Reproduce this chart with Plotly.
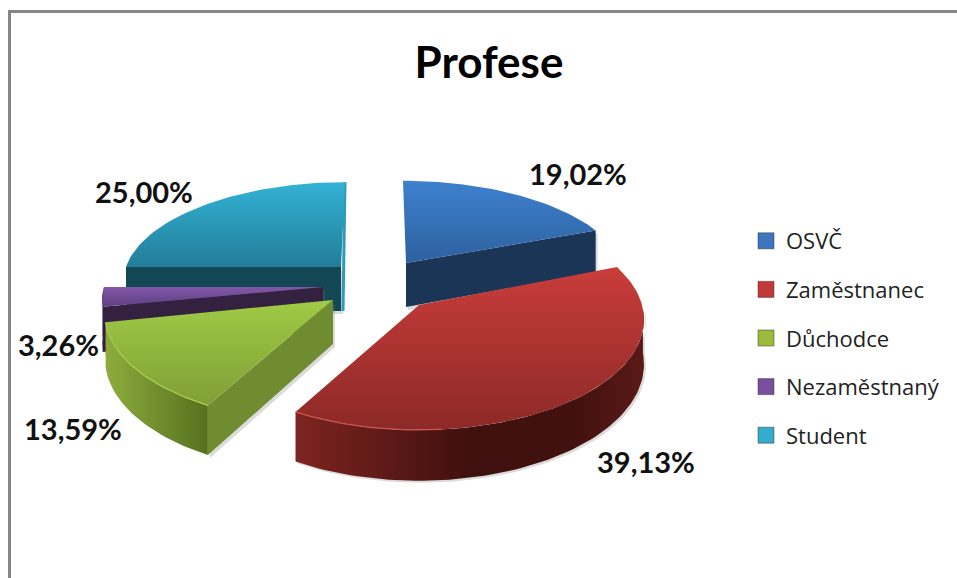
import math
import plotly.graph_objects as go

categories = ["OSVČ", "Zaměstnanec", "Důchodce", "Nezaměstnaný", "Student"]
values = [19.02, 39.13, 13.59, 3.26, 25.00]
value_labels = ["19,02%", "39,13%", "13,59%", "3,26%", "25,00%"]

# slice projection on the pixel-sized axes: centre x/y, radii, lean of the far side
geom = {
    "OSVČ": (406, 263, 215, 93, -3),
    "Zaměstnanec": (419, 305, 223, 108.5, 0),
    "Důchodce": (333, 300, 226, 107, 0),
    "Nezaměstnaný": (323, 287, 219, 95, 0),
    "Student": (341, 267, 215, 96, 4),
}
label_pos = [(578, 173), (646, 461), (73, 428), (58, 344), (144, 191)]
legend_colors = ["#3F75BE", "#C23A37", "#9BBB3F", "#7A4F9E", "#35ACCB"]
top_colors = {
    "OSVČ": ("#3E80CE", "#2D619F"),
    "Zaměstnanec": ("#C93D3B", "#8C2926"),
    "Důchodce": ("#A0CA46", "#7F9F36"),
    "Nezaměstnaný": ("#8257A8", "#5F3E82"),
    "Student": ("#33B2D5", "#227D98"),
}
cut_colors = {"OSVČ": "#1B3557", "Důchodce": "#6F8C31", "Nezaměstnaný": "#33213F", "Student": "#144755"}
outer_colors = {
    "Zaměstnanec": [[0, "#7E2421"], [0.5, "#3F100E"], [0.8, "#42110F"], [1, "#5A1A17"]],
    "Důchodce": [[0, "#8DAC3D"], [1, "#55711F"]],
    "Nezaměstnaný": [[0, "#33213F"], [1, "#33213F"]],
}
rim_colors = {"Zaměstnanec": "#CF5450", "Důchodce": "#AAD04E"}
draw_order = ["Student", "OSVČ", "Nezaměstnaný", "Důchodce", "Zaměstnanec"]

PERSPECTIVE = 0.132
DEPTH = 44

total = sum(values)
spans = {}
acc = 0.0
for name, v in zip(categories, values):
    spans[name] = (acc / total * 360, (acc + v) / total * 360)
    acc += v


def project(name, deg, drop=0.0):
    cx, cy, rx, ry, lean = geom[name]
    a = math.radians(deg)
    X, Y = math.sin(a), math.cos(a)
    w = 1 + PERSPECTIVE * Y
    return cx + rx * X / w + lean * Y, cy - ry * Y / w + drop / w


def arc(name, a0, a1, drop=0.0):
    n = max(2, int(abs(a1 - a0) / 1.5))
    return [project(name, a0 + (a1 - a0) * i / n, drop) for i in range(n + 1)]


def apex(name, drop=0.0):
    cx, cy = geom[name][:2]
    return (cx, cy + drop)


def poly(pts, hex_color=None, gradient=None):
    xs = [p[0] for p in pts] + [pts[0][0]]
    ys = [p[1] for p in pts] + [pts[0][1]]
    kw = dict(x=xs, y=ys, mode="lines", fill="toself", line=dict(width=0),
              showlegend=False, hoverinfo="skip")
    if gradient:
        kw["fillgradient"] = gradient
    else:
        kw["fillcolor"] = hex_color
    return go.Scatter(**kw)


fig = go.Figure()

for name in draw_order:
    a0, a1 = spans[name]
    # soft shadow of the side walls
    if name in cut_colors:
        ang = a1 if name == "OSVČ" else a0
        s = [apex(name), project(name, ang), project(name, ang, DEPTH), apex(name, DEPTH)]
        fig.add_trace(poly([(x + 2, y + 3) for x, y in s], "rgba(110,110,110,0.25)"))
    if name == "Zaměstnanec":
        s = arc(name, 92, a1) + arc(name, a1, 92, DEPTH)
        fig.add_trace(poly([(x + 2, y + 2) for x, y in s], "rgba(110,110,110,0.25)"))

    # flat cut faces
    if name in cut_colors:
        ang = a1 if name == "OSVČ" else a0
        fig.add_trace(poly([apex(name), project(name, ang), project(name, ang, DEPTH), apex(name, DEPTH)],
                           cut_colors[name]))
    if name == "Student":
        top_pt = project(name, a1)
        low = apex(name, DEPTH)
        fig.add_trace(go.Scatter(x=[top_pt[0], low[0] + 2], y=[top_pt[1], low[1]], mode="lines",
                                 line=dict(color="#2D9AB8", width=3), showlegend=False, hoverinfo="skip"))

    # curved outer wall
    if name in outer_colors:
        start = max(a0, 92)
        end = min(a1, 270)
        pts = arc(name, start, end) + arc(name, end, start, DEPTH)
        fig.add_trace(poly(pts, gradient=dict(type="horizontal", colorscale=outer_colors[name])))

    # top surface (light edge on the far side of the slice)
    c0, c1 = top_colors[name]
    pts = [apex(name)] + arc(name, a0, a1)
    fig.add_trace(poly(pts, gradient=dict(type="vertical", colorscale=[[0, c1], [1, c0]])))

    # light rim on the front edge
    if name in rim_colors:
        rim = arc(name, max(a0, 175), a1) if name == "Zaměstnanec" else arc(name, a0, a1)
        fig.add_trace(go.Scatter(x=[p[0] for p in rim], y=[p[1] for p in rim], mode="lines",
                                 line=dict(color=rim_colors[name], width=1.2),
                                 showlegend=False, hoverinfo="skip"))

# legend entries
for name, col in zip(categories, legend_colors):
    fig.add_trace(go.Scatter(x=[None], y=[None], mode="markers", name=name, legendgroup=name,
                             marker=dict(symbol="square", size=16, color=col,
                                         line=dict(color="rgba(40,40,40,0.45)", width=1))))

annotations = [
    dict(x=x, y=y, xref="x", yref="y", text=f"<b>{t}</b>", showarrow=False,
         font=dict(family="Lato, Open Sans, sans-serif", size=29, color="#111111"))
    for t, (x, y) in zip(value_labels, label_pos)
]

fig.update_layout(
    width=957, height=578,
    paper_bgcolor="white", plot_bgcolor="white",
    margin=dict(l=0, r=0, t=0, b=0),
    xaxis=dict(range=[0, 957], visible=False, fixedrange=True),
    yaxis=dict(range=[578, 0], visible=False, fixedrange=True),
    title=dict(text="<b>Profese</b>", x=489 / 957, xanchor="center", y=1 - 63 / 578, yanchor="middle",
               font=dict(family="Lato, Open Sans, sans-serif", size=44, color="black")),
    annotations=annotations,
    legend=dict(x=746 / 957, y=1 - 338 / 578, xanchor="left", yanchor="middle",
                bgcolor="rgba(0,0,0,0)",
                font=dict(family="Open Sans, sans-serif", size=22, color="#222222"),
                traceorder="grouped", tracegroupgap=17, itemclick=False, itemdoubleclick=False),
    shapes=[
        dict(type="line", xref="paper", yref="paper", x0=9.5 / 957, x1=9.5 / 957, y0=0, y1=1 - 10 / 578,
             line=dict(color="#868686", width=3)),
        dict(type="line", xref="paper", yref="paper", x0=8 / 957, x1=1, y0=1 - 11.5 / 578, y1=1 - 11.5 / 578,
             line=dict(color="#868686", width=3)),
    ],
)
fig.write_html("out.html", config={"displayModeBar": False},
               post_script="document.body.style.margin='0';document.documentElement.style.overflow='hidden';")
